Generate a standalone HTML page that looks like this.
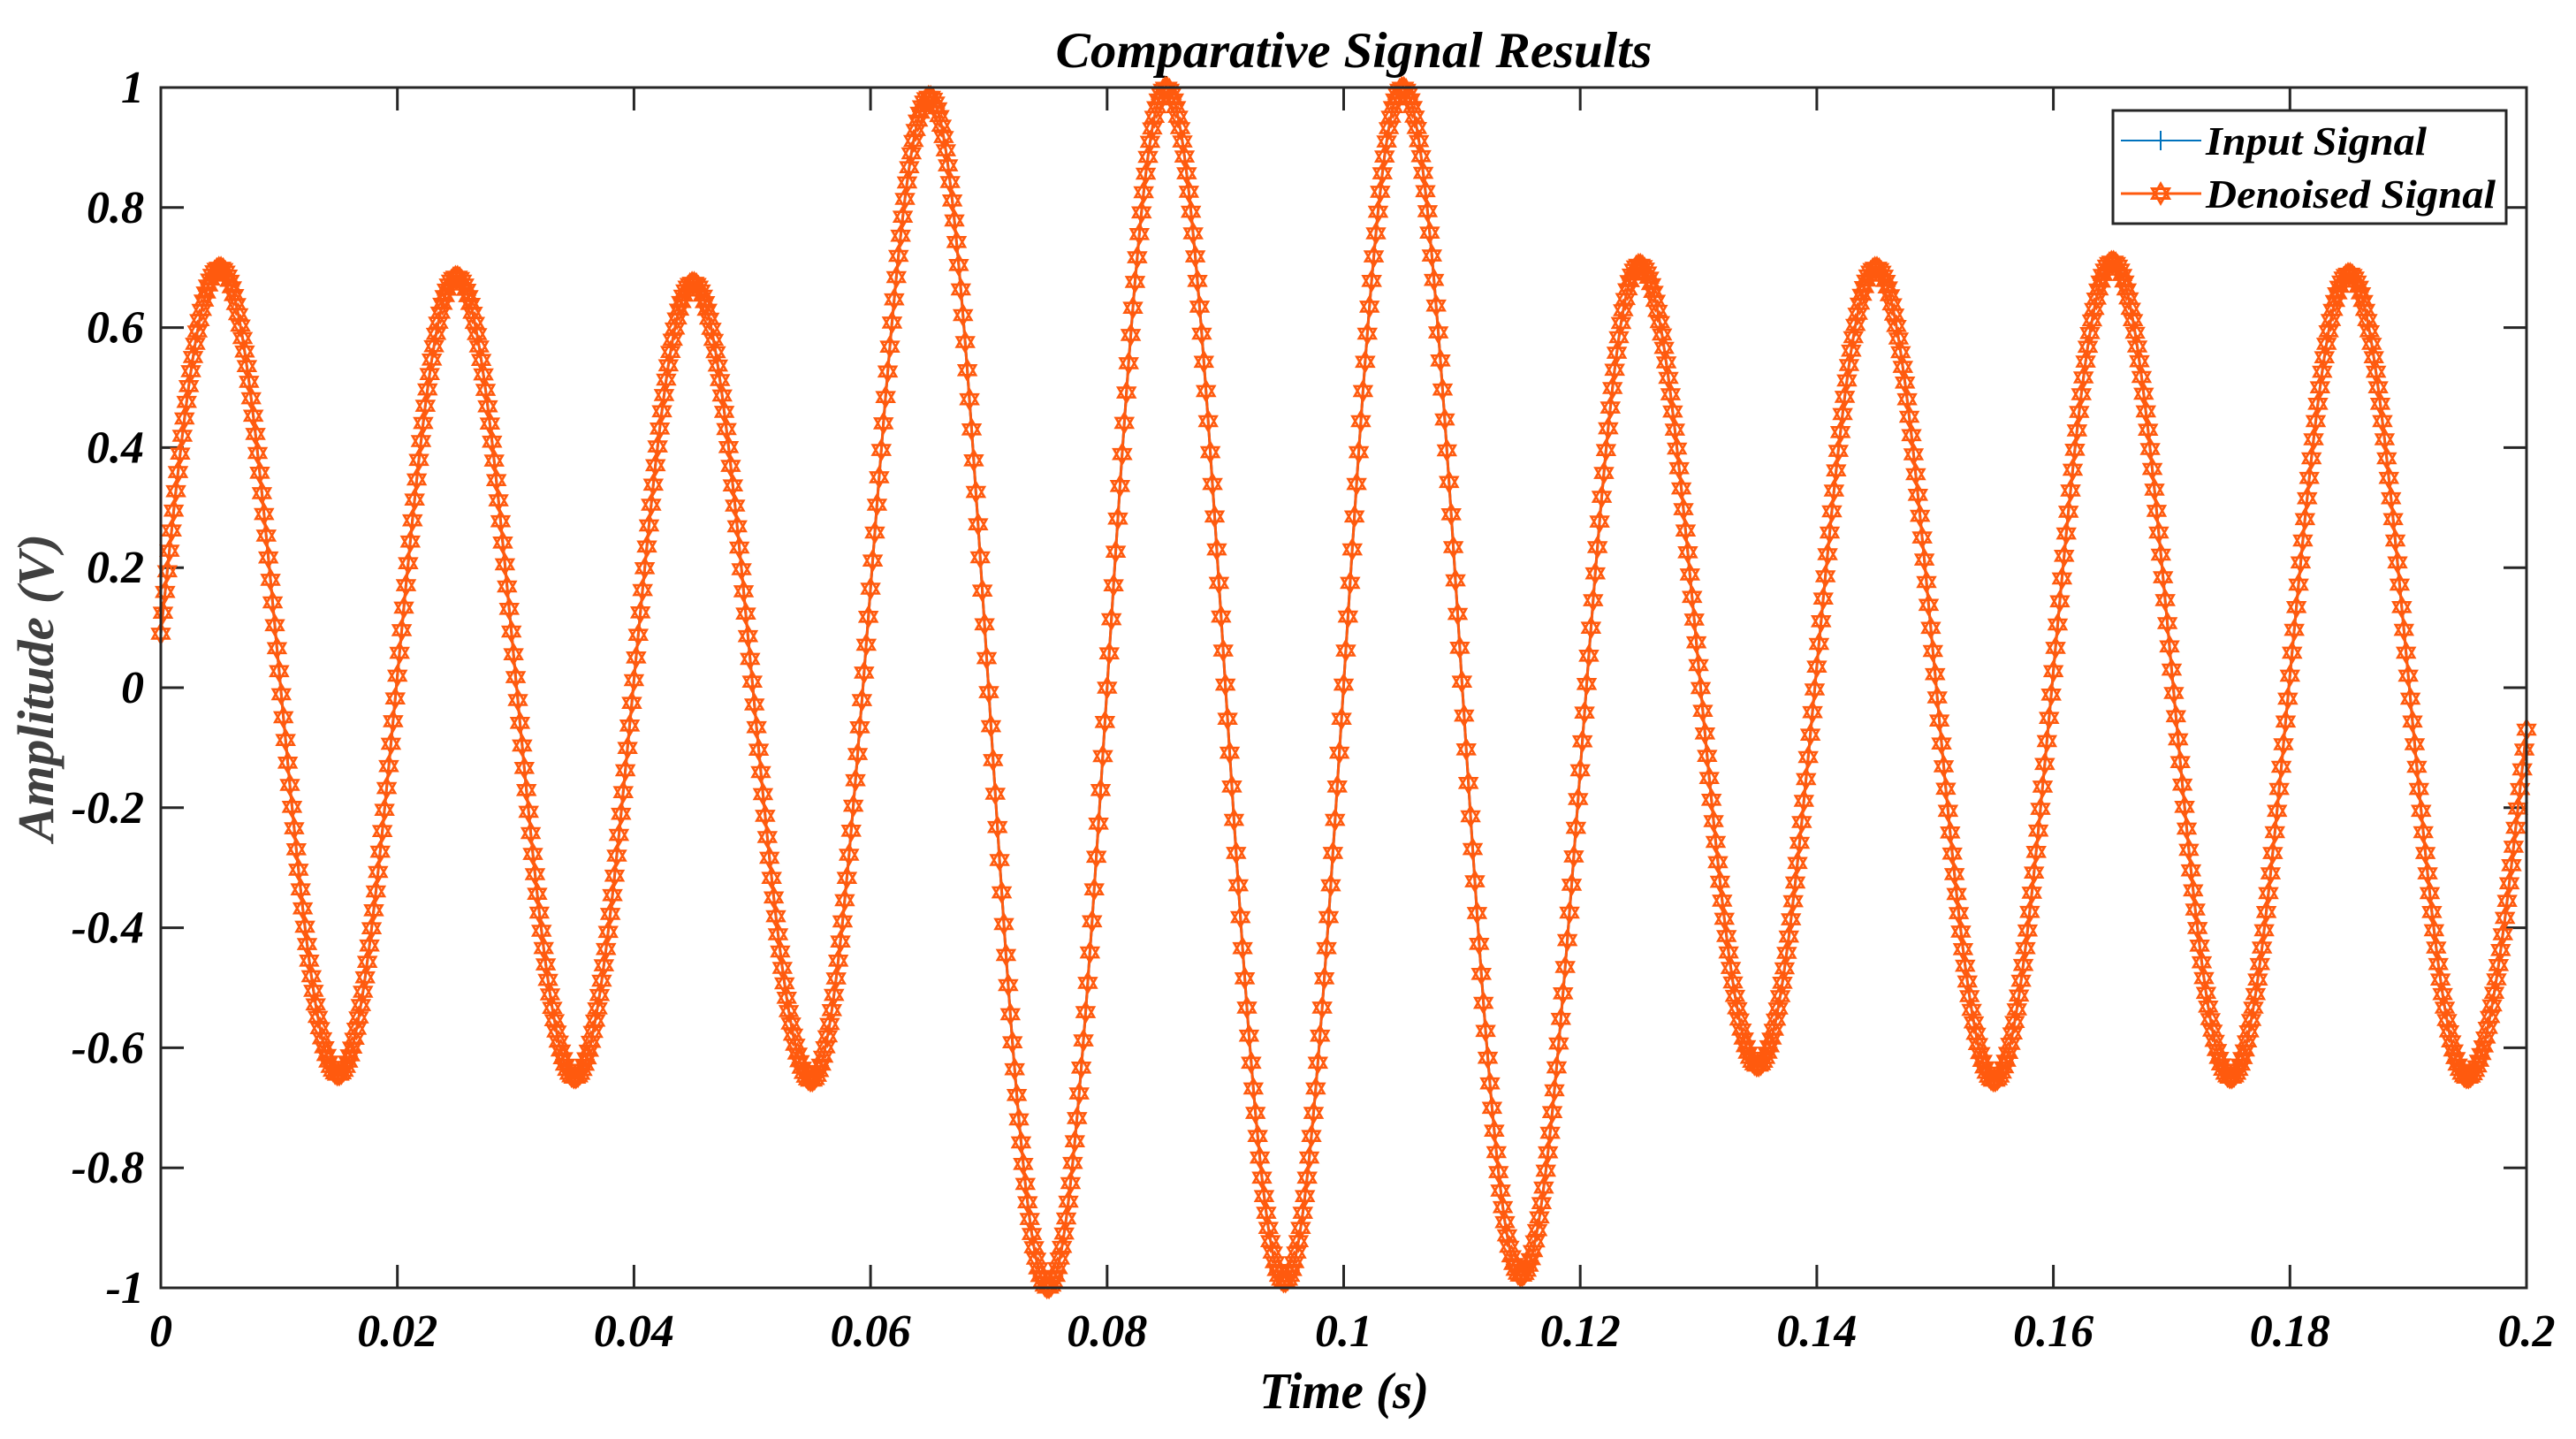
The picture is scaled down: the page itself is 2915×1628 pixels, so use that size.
<!DOCTYPE html>
<html><head><meta charset="utf-8"><style>
html,body{margin:0;padding:0;background:#fff;}
svg{display:block;}
text{font-family:"Liberation Serif",serif;font-weight:bold;font-style:italic;fill:#000;}
</style></head><body>
<svg id="chart" width="2915" height="1628" viewBox="0 0 2915 1628" xmlns="http://www.w3.org/2000/svg">
<rect x="0" y="0" width="2915" height="1628" fill="#fff"/>
<text x="1532" y="76" font-size="57" text-anchor="middle" textLength="675" lengthAdjust="spacingAndGlyphs">Comparative Signal Results</text>
<g id="xticks"></g>
<g id="yticks"></g>
<g id="plot"></g>
<rect x="182" y="99" width="2677" height="1358" fill="none" stroke="#262626" stroke-width="3"/>
<text x="1521" y="1593" font-size="58" text-anchor="middle" textLength="192" lengthAdjust="spacingAndGlyphs">Time (s)</text>
<text transform="translate(60,778) rotate(-90)" x="0" y="0" font-size="58" text-anchor="middle" style="fill:#404040" textLength="348" lengthAdjust="spacingAndGlyphs">Amplitude (V)</text>
<g>
<rect x="2391" y="125" width="445" height="128" fill="#fff" stroke="#262626" stroke-width="3"/>
<g>
<line x1="2400" y1="159" x2="2491" y2="159" stroke="#0072BD" stroke-width="2"/>
<line x1="2445" y1="148" x2="2445" y2="170" stroke="#0072BD" stroke-width="2"/>
<text x="2496" y="175" font-size="46" textLength="250" lengthAdjust="spacingAndGlyphs">Input Signal</text>
</g>
<g>
<line x1="2400" y1="219" x2="2491" y2="219" stroke="#FF5A0E" stroke-width="3"/>
<path id="legstar" d="" fill="none" stroke="#FF5A0E" stroke-width="3"/>
<text x="2496" y="235" font-size="46" textLength="328" lengthAdjust="spacingAndGlyphs">Denoised Signal</text>
</g>
</g>
</svg>
<script>
// Data
const xTickLabels = ["0","0.02","0.04","0.06","0.08","0.1","0.12","0.14","0.16","0.18","0.2"];
const xTickValues = [0,0.02,0.04,0.06,0.08,0.1,0.12,0.14,0.16,0.18,0.2];
const yTickLabels = ["1","0.8","0.6","0.4","0.2","0","-0.2","-0.4","-0.6","-0.8","-1"];
const yTickValues = [1,0.8,0.6,0.4,0.2,0,-0.2,-0.4,-0.6,-0.8,-1];
const peakTimes = [0.005,0.025,0.045,0.065,0.085,0.105,0.125,0.145,0.165,0.185];
const peakValues = [0.70,0.685,0.675,0.985,1.0,1.0,0.705,0.70,0.71,0.69];
const troughTimes = [0.015,0.035,0.055,0.075,0.095,0.115,0.135,0.155,0.175,0.195];
const troughValues = [-0.645,-0.65,-0.655,-1.0,-0.99,-0.98,-0.63,-0.655,-0.65,-0.65];
const startValue = 0.09;
const endValue = -0.07;
const sampleRate = 5500;

const X0=182,X1=2859,Y0=99,Y1=1457;
const xScale=t=>X0+(t-0)/(0.2-0)*(X1-X0);
const yScale=v=>Y1-(v-(-1))/(1-(-1))*(Y1-Y0);
const NS="http://www.w3.org/2000/svg";
function mk(tag,attrs,parent){const e=document.createElementNS(NS,tag);for(const k in attrs)e.setAttribute(k,attrs[k]);parent.appendChild(e);return e;}

const xg=document.getElementById('xticks');
xTickValues.forEach((v,i)=>{
  const x=xScale(v);
  const t1=mk('line',{x1:x,y1:Y1,x2:x,y2:Y1-26,stroke:'#262626','stroke-width':3},xg);
  
  
  const t2=mk('line',{x1:x,y1:Y0,x2:x,y2:Y0+26,stroke:'#262626','stroke-width':3},xg);
  
  
  const tx=mk('text',{x:x,y:1523,'font-size':52,'text-anchor':'middle'},xg);
  
  
  tx.textContent=xTickLabels[i];
});
const yg=document.getElementById('yticks');
yTickValues.forEach((v,i)=>{
  const y=yScale(v);
  const t1=mk('line',{x1:X0,y1:y,x2:X0+26,y2:y,stroke:'#262626','stroke-width':3},yg);
  
  
  const t2=mk('line',{x1:X1,y1:y,x2:X1-26,y2:y,stroke:'#262626','stroke-width':3},yg);
  
  
  const tx=mk('text',{x:163,y:y+17,'font-size':52,'text-anchor':'end'},yg);
  
  
  tx.textContent=yTickLabels[i];
});

const keys=[];
for(let i=0;i<peakTimes.length;i++){keys.push([peakTimes[i],peakValues[i]]);keys.push([troughTimes[i],troughValues[i]]);}
function valueAt(t){
  if(t<=keys[0][0]){const u=t/keys[0][0];return startValue+(keys[0][1]-startValue)*Math.sin(Math.PI/2*u);}
  const last=keys[keys.length-1];
  if(t>=last[0]){const u=(t-last[0])/(0.2-last[0]);return last[1]+(endValue-last[1])*(1-Math.cos(Math.PI/2*u));}
  for(let k=0;k<keys.length-1;k++){
    const a=keys[k],b=keys[k+1];
    if(t>=a[0]&&t<=b[0]){const u=(t-a[0])/(b[0]-a[0]);return a[1]+(b[1]-a[1])*(1-Math.cos(Math.PI*u))/2;}
  }
  return 0;
}
const N=Math.round(0.2*sampleRate);
const pts=[];
for(let i=0;i<=N;i++){const t=i/sampleRate;pts.push([xScale(t),yScale(valueAt(t))]);}
const pg=document.getElementById('plot');
const d=pts.map((p,i)=>(i?'L':'M')+p[0].toFixed(1)+' '+p[1].toFixed(1)).join('');
const inLine=mk('path',{d:d,fill:'none',stroke:'#0072BD','stroke-width':3},pg);


const dnLine=mk('path',{d:d,fill:'none',stroke:'#FF5A0E','stroke-width':3},pg);


function star(x,y,r){
  const a=[],b=[];
  for(let k=0;k<3;k++){const t1=-Math.PI/2+k*2*Math.PI/3;a.push((x+r*Math.cos(t1)).toFixed(1)+' '+(y+r*Math.sin(t1)).toFixed(1));
    const t2=Math.PI/2+k*2*Math.PI/3;b.push((x+r*Math.cos(t2)).toFixed(1)+' '+(y+r*Math.sin(t2)).toFixed(1));}
  return 'M'+a.join('L')+'Z M'+b.join('L')+'Z';
}
let sd='';
pts.forEach(p=>{sd+=star(p[0],p[1],11);});
const markers=mk('path',{d:sd,fill:'none',stroke:'#FF5A0E','stroke-width':2.6},pg);


document.getElementById('legstar').setAttribute('d',star(2445,219,11));
</script>
</body></html>
